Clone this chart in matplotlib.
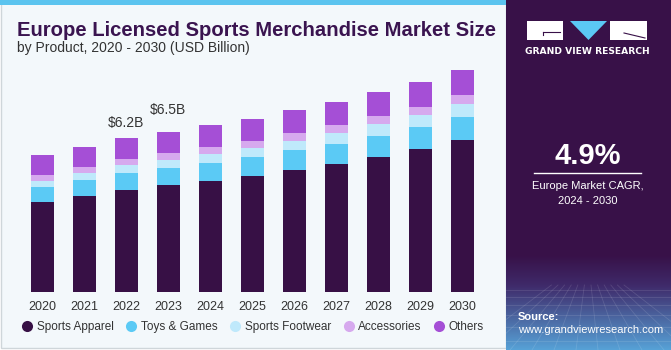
import numpy as np
import matplotlib
matplotlib.use("Agg")
from matplotlib import pyplot as plt
from matplotlib.patches import Rectangle, Polygon
from matplotlib.lines import Line2D

# datos (USD Billion)
years = ["2020", "2021", "2022", "2023", "2024", "2025", "2026", "2027", "2028", "2029", "2030"]
apparel = [3.62, 3.86, 4.12, 4.30, 4.48, 4.68, 4.91, 5.15, 5.43, 5.76, 6.10]
toys = [0.62, 0.65, 0.67, 0.69, 0.71, 0.75, 0.79, 0.82, 0.86, 0.88, 0.94]
footwear = [0.25, 0.28, 0.31, 0.32, 0.36, 0.37, 0.39, 0.43, 0.46, 0.48, 0.52]
accessories = [0.24, 0.24, 0.25, 0.28, 0.28, 0.28, 0.30, 0.31, 0.32, 0.33, 0.36]
others = [0.77, 0.80, 0.84, 0.84, 0.88, 0.90, 0.92, 0.94, 0.96, 1.00, 1.02]
segment_names = ["Sports Apparel", "Toys & Games", "Sports Footwear", "Accessories", "Others"]
colors = ["#371045", "#5bcaf5", "#bfe9fb", "#d6a9ee", "#a54fd6"]
label_years = ["2022", "2023"]
label_texts = ["$6.2B", "$6.5B"]

W, H = 671, 350
plt.rcParams['font.family'] = ['Liberation Sans', 'DejaVu Sans']
fig = plt.figure(figsize=(W / 100, H / 100), dpi=100)
fig.patch.set_facecolor("#ffffff")

def fx(px):
    return px / W

def fy(py):  # py medido desde arriba
    return 1 - py / H

# fondo del area izquierda
fig.patches.append(Rectangle((fx(1), fy(348)), fx(505), (347) / H, transform=fig.transFigure,
                             facecolor="#f3f8fb", edgecolor="#cfd6da", lw=1, zorder=-2))
fig.patches.append(Rectangle((0, fy(5)), fx(506), 5 / H, transform=fig.transFigure,
                             facecolor="#5bc4ef", edgecolor="none", zorder=-1))

# panel derecho con degradado
pax = fig.add_axes([fx(506), 0, fx(165), 1])
pax.set_axis_off()
top = np.array([0x38, 0x11, 0x48]) / 255
mid = np.array([0x3f, 0x2a, 0x6a]) / 255
bot = np.array([0x57, 0xa3, 0xd8]) / 255
grad = np.zeros((350, 1, 3))
for i in range(350):
    if i < 255:
        grad[i, 0] = top
    elif i < 285:
        t = (i - 255) / 30
        grad[i, 0] = top * (1 - t) + mid * t
    else:
        t = (i - 285) / 65
        grad[i, 0] = mid * (1 - t) + bot * t
pax.imshow(grad, aspect="auto", extent=[0, 165, 350, 0])
# malla tenue
for k in range(12):
    xx = -40 + k * 22
    pax.plot([82 + (xx - 82) * 0.3, xx], [285, 350], color="white", alpha=0.12, lw=0.6)
for yy in [290, 297, 305, 315, 327, 341]:
    pax.plot([0, 165], [yy, yy], color="white", alpha=0.12, lw=0.6)
pax.set_xlim(0, 165)
pax.set_ylim(350, 0)

# logo
lx = lambda p: p - 506
pax.add_patch(Rectangle((lx(527), 21), 36, 19, facecolor="white", edgecolor="none"))
pax.add_patch(Rectangle((lx(610), 21), 37, 19, facecolor="white", edgecolor="none"))
pax.add_patch(Polygon([[lx(570), 21], [lx(607), 21], [lx(588.5), 40]], facecolor="#5bc8f5", edgecolor="none"))
pax.plot([lx(543), lx(560)], [32, 32], color="#381148", lw=0.8)
pax.plot([lx(543), lx(543)], [32, 35], color="#381148", lw=0.8)
pax.plot([lx(624), lx(645)], [33, 38], color="#381148", lw=0.8)
fig.text(fx(587), fy(51.5), "GRAND VIEW RESEARCH", color="white", fontsize=6.6, fontweight="bold",
         ha="center", va="center", family="DejaVu Sans")

fig.text(fx(587.5), fy(156), "4.9%", color="white", fontsize=21, fontweight="bold", ha="center", va="center")
pax.plot([lx(534), lx(641)], [173.3, 173.3], color="white", lw=1)
fig.text(fx(588), fy(186), "Europe Market CAGR,", color="white", fontsize=8, ha="center", va="center")
fig.text(fx(588), fy(201), "2024 - 2030", color="white", fontsize=8, ha="center", va="center")
fig.text(fx(518), fy(316.5), "Source:", color="white", fontsize=8, fontweight="bold", ha="left", va="center")
fig.text(fx(518), fy(330), "www.grandviewresearch.com", color="white", fontsize=8, ha="left", va="center")

# titulos
fig.text(fx(17), fy(30), "Europe Licensed Sports Merchandise Market Size", color="#3a1450",
         fontsize=14.6, fontweight="bold", ha="left", va="center")
fig.text(fx(17), fy(48), "by Product, 2020 - 2030 (USD Billion)", color="#333333",
         fontsize=10, ha="left", va="center")

# grafica de barras apiladas
ax = fig.add_axes([fx(21.3), 57.7 / H, fx(462), 232.3 / H])
ax.set_facecolor("none")
x = np.arange(len(years))
series = [apparel, toys, footwear, accessories, others]
bottom = np.zeros(len(years))
for vals, c in zip(series, colors):
    ax.bar(x, vals, width=0.555, bottom=bottom, color=c, edgecolor="none", zorder=2)
    bottom = bottom + np.array(vals)
totals = bottom

for yr, txt, off in zip(label_years, label_texts, [11, 16]):
    i = years.index(yr)
    ax.annotate(txt, (x[i], totals[i]), xytext=(0, off), textcoords="offset points",
                ha="center", va="center", fontsize=10, color="#333333")

ax.set_xlim(-0.5, len(years) - 0.5)
ax.set_ylim(0, 9.33)
ax.set_xticks(x)
ax.set_xticklabels(years, fontsize=9, color="#333333")
ax.tick_params(axis="x", length=0, pad=6)
ax.set_yticks([])
for s in ax.spines.values():
    s.set_visible(False)

handles = [Line2D([0], [0], marker="o", color="none", markerfacecolor=c, markeredgecolor="none",
                  markersize=8) for c in colors]
fig.legend(handles, segment_names, loc="center", bbox_to_anchor=(fx(252), fy(327)), ncol=5,
           frameon=False, fontsize=8.5, handletextpad=0.2, columnspacing=0.9, handlelength=1.2,
           labelcolor="#333333")

fig.savefig("out.png", dpi=100)
